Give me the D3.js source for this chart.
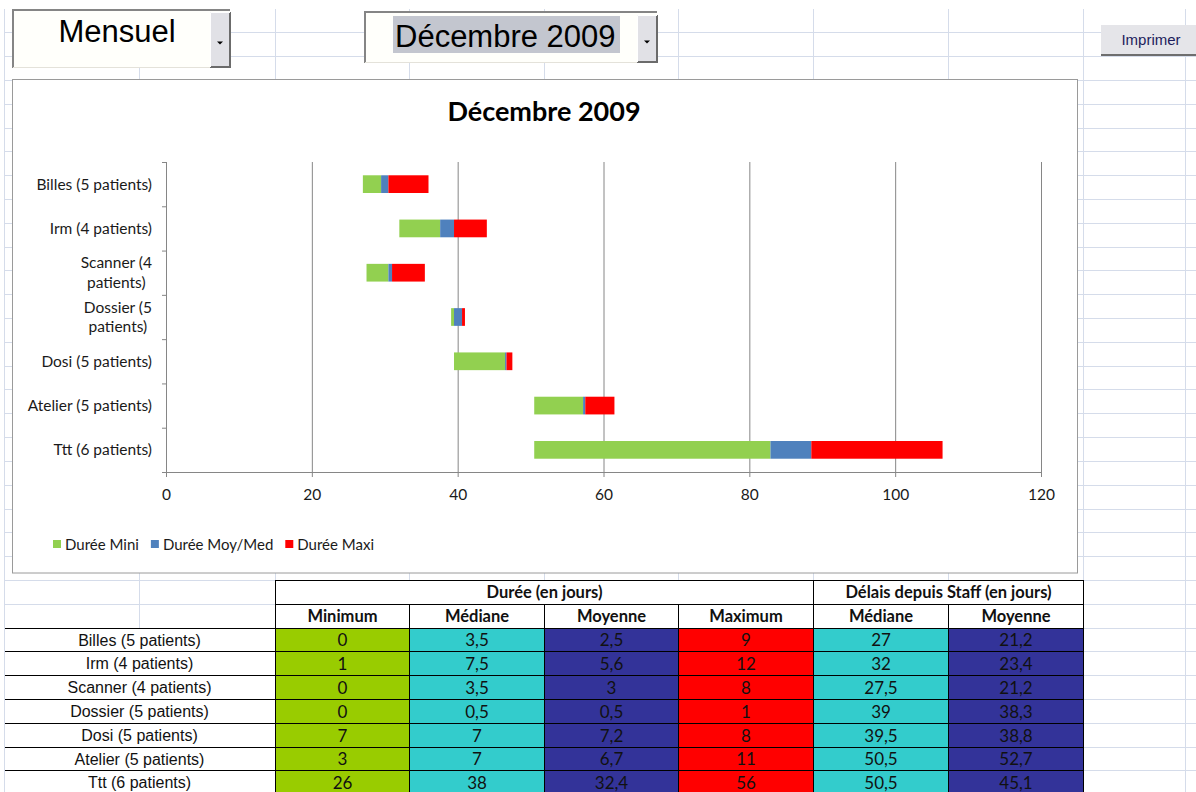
<!DOCTYPE html>
<html>
<head>
<meta charset="utf-8">
<script src="https://cdn.jsdelivr.net/npm/d3@7"></script>
<style>
  body { margin: 0; background: #fff; }
  svg { display: block; }
</style>
</head>
<body>
<svg id="sheet" width="1196" height="792"></svg>
<script>
// categories (same order in the chart and in the table)
var categories = ["Billes (5 patients)", "Irm (4 patients)", "Scanner (4 patients)", "Dossier (5 patients)",
  "Dosi (5 patients)", "Atelier (5 patients)", "Ttt (6 patients)"];
var wrappedLabels = ["Scanner (4 patients)", "Dossier (5 patients)"];

// chart segments (days)
var offsetStaff = [27, 32, 27.5, 39.1, 39.5, 50.5, 50.5];
var dureeMini = [2.5, 5.6, 3, 0.4, 7, 6.7, 32.4];
var dureeMoyMed = [1, 1.9, 0.5, 1.1, 0.2, 0.3, 5.6];
var dureeMaxi = [5.5, 4.5, 4.5, 0.4, 0.8, 4, 18];
var xTicks = [0, 20, 40, 60, 80, 100, 120];
var legendLabels = ["Durée Mini", "Durée Moy/Med", "Durée Maxi"];

// table values
var colMinimum = [0, 1, 0, 0, 7, 3, 26];
var colMediane = [3.5, 7.5, 3.5, 0.5, 7, 7, 38];
var colMoyenne = [2.5, 5.6, 3, 0.5, 7.2, 6.7, 32.4];
var colMaximum = [9, 12, 8, 1, 8, 11, 56];
var colStaffMediane = [27, 32, 27.5, 39, 39.5, 50.5, 50.5];
var colStaffMoyenne = [21.2, 23.4, 21.2, 38.3, 38.8, 52.7, 45.1];

var svg = d3.select("#sheet"),
  calibri = "Lato, 'Open Sans', sans-serif",
  arial = "'Liberation Sans', Arial, sans-serif",
  rowTop = 8.5,
  rowH = 23.81,
  colEdges = [4, 139, 275, 409, 544, 678, 813, 948, 1083, 1185],
  gridColor = "#d5dcea",
  axisColor = "#868686",
  chartText = "#1a1a1a",
  rowY = function(k) { return Math.round(rowTop + k * rowH) + 0.5; },
  frTxt = function(v) { return String(v).replace(".", ","); };

// ---- spreadsheet grid
var grid = svg.append("g").attr("class", "grid");
grid.selectAll("line.h")
  .data(d3.range(1, 34))
  .enter().append("line")
    .attr("class", "h")
    .attr("x1", 4).attr("x2", 1196)
    .attr("y1", rowY).attr("y2", rowY)
    .attr("stroke", gridColor);
grid.selectAll("line.v")
  .data(colEdges)
  .enter().append("line")
    .attr("class", "v")
    .attr("x1", function(d) { return d + 0.5; })
    .attr("x2", function(d) { return d + 0.5; })
    .attr("y1", 9).attr("y2", 792)
    .attr("stroke", gridColor);

// ---- form controls
function comboBox(x0, y0, x1, y1, bx0, by0, by1) {
  var g = svg.append("g");
  g.append("rect")
    .attr("x", x0).attr("y", y0)
    .attr("width", x1 - x0).attr("height", y1 - y0)
    .attr("fill", "#fffffb");
  g.append("path")
    .attr("d", "M" + x0 + "," + y1 + "V" + y0 + "H" + x1)
    .attr("fill", "none").attr("stroke", "#858585").attr("stroke-width", 2);
  g.append("path")
    .attr("d", "M" + x0 + "," + (y1 - 0.5) + "H" + x1)
    .attr("fill", "none").attr("stroke", "#e4e2da");
  g.append("rect")
    .attr("x", bx0).attr("y", by0)
    .attr("width", x1 - bx0).attr("height", by1 - by0)
    .attr("fill", "#e1e1e6");
  g.append("path")
    .attr("d", "M" + bx0 + "," + by1 + "H" + x1 + "V" + by0)
    .attr("fill", "none").attr("stroke", "#6b6b6b").attr("stroke-width", 2);
  g.append("path")
    .attr("d", "M" + (bx0 + 0.5) + "," + by1 + "V" + (by0 + 0.5) + "H" + x1)
    .attr("fill", "none").attr("stroke", "#ffffff");
  var cx = (bx0 + x1) / 2, cy = (by0 + by1) / 2 + 2;
  g.append("path")
    .attr("d", "M" + (cx - 3) + "," + cy + "h6l-3,3z")
    .attr("fill", "#000");
  return g;
}

var combo1 = comboBox(13, 10, 230, 68, 210, 12, 67);
combo1.append("text")
  .attr("x", 117).attr("y", 42)
  .attr("text-anchor", "middle")
  .attr("font-family", arial).attr("font-size", 31)
  .attr("fill", "#000")
  .text("Mensuel");

var combo2 = comboBox(365, 12, 657, 63, 637, 15, 62);
combo2.append("rect")
  .attr("x", 393).attr("y", 16)
  .attr("width", 227).attr("height", 37)
  .attr("fill", "#c3c6cf");
combo2.append("text")
  .attr("x", 395).attr("y", 47)
  .attr("font-family", arial).attr("font-size", 31)
  .attr("fill", "#000")
  .text("Décembre 2009");

var printBtn = svg.append("g");
printBtn.append("rect")
  .attr("x", 1101).attr("y", 25)
  .attr("width", 95).attr("height", 31)
  .attr("fill", "#e5e5e9");
printBtn.append("path")
  .attr("d", "M1101,55H1196")
  .attr("stroke", "#6e6e6e").attr("stroke-width", 2);
printBtn.append("text")
  .attr("x", 1151).attr("y", 45)
  .attr("text-anchor", "middle")
  .attr("font-family", arial).attr("font-size", 15)
  .attr("fill", "#1d1d5c")
  .text("Imprimer");

// ---- chart area
svg.append("rect")
  .attr("x", 12.5).attr("y", 79.5)
  .attr("width", 1065).attr("height", 493.5)
  .attr("fill", "#fff")
  .attr("stroke", "#9a9a9a");

svg.append("text")
  .attr("x", 544).attr("y", 121)
  .attr("text-anchor", "middle")
  .attr("font-family", calibri).attr("font-size", 27).attr("font-weight", "bold")
  .attr("fill", "#000")
  .text("Décembre 2009");

var plotTop = 162, plotBottom = 472;
var x = d3.scaleLinear()
  .domain([0, 120])
  .range([166, 1041]);
var y = d3.scaleBand()
  .domain(categories)
  .range([plotTop, plotBottom])
  .paddingInner(0.6)
  .paddingOuter(0.3);
var yTickScale = d3.scaleLinear()
  .domain([0, categories.length])
  .range([plotTop, plotBottom]);

var plot = svg.append("g").attr("class", "plot");

// vertical gridlines
plot.append("g")
  .attr("transform", "translate(0," + plotBottom + ")")
  .call(d3.axisBottom(x).tickValues(xTicks).tickSize(-(plotBottom - plotTop)).tickFormat(""))
  .call(function(g) {
    g.select(".domain").remove();
    g.selectAll("line").attr("stroke", axisColor);
  });

// stacked bars, first layer is the invisible offset
var rows = categories.map(function(c, i) {
  return { cat: c, offset: offsetStaff[i], mini: dureeMini[i], moyMed: dureeMoyMed[i], maxi: dureeMaxi[i] };
});
var keys = ["offset", "mini", "moyMed", "maxi"],
  fills = { offset: "none", mini: "#92d050", moyMed: "#4f81bd", maxi: "#ff0000" };
var series = d3.stack().keys(keys)(rows);

plot.selectAll("g.layer")
  .data(series.filter(function(s) { return s.key !== "offset"; }))
  .enter().append("g")
    .attr("class", "layer")
    .attr("fill", function(s) { return fills[s.key]; })
  .selectAll("rect")
  .data(function(s) { return s; })
  .enter().append("rect")
    .attr("x", function(d) { return x(d[0]); })
    .attr("y", function(d) { return y(d.data.cat); })
    .attr("width", function(d) { return Math.max(0, x(d[1]) - x(d[0])); })
    .attr("height", y.bandwidth());

// axes
plot.append("g")
  .attr("transform", "translate(166,0)")
  .call(d3.axisLeft(yTickScale).ticks(categories.length).tickSize(4).tickFormat(""))
  .call(function(g) {
    g.selectAll("path, line").attr("stroke", axisColor);
  });

plot.append("g")
  .attr("transform", "translate(0," + plotBottom + ")")
  .call(d3.axisBottom(x).tickValues(xTicks).tickSize(5).tickPadding(12))
  .call(function(g) {
    g.selectAll("path, line").attr("stroke", axisColor);
    g.selectAll("text")
      .attr("font-family", calibri).attr("font-size", 15.5)
      .attr("fill", chartText);
  });

// category labels
var catLabels = plot.append("g")
  .attr("font-family", calibri).attr("font-size", 15.5)
  .attr("fill", chartText);

categories.forEach(function(c) {
  var cy = y(c) + y.bandwidth() / 2,
    lines = wrappedLabels.indexOf(c) >= 0 ? [c.slice(0, c.lastIndexOf(" ")), c.slice(c.lastIndexOf(" ") + 1)] : [c],
    t = catLabels.append("text").attr("text-anchor", "middle"),
    spans = t.selectAll("tspan")
      .data(lines)
      .enter().append("tspan")
        .attr("y", function(d, i) { return cy + (i - (lines.length - 1) / 2) * 19.5; })
        .attr("dy", "0.35em")
        .text(function(d) { return d; }),
    w = d3.max(spans.nodes(), function(n) { return n.getComputedTextLength(); });
  spans.attr("x", 152 - w / 2);
});

// legend
var legend = svg.append("g")
  .attr("font-family", calibri).attr("font-size", 15)
  .attr("fill", chartText);
var lx = 53;
legendLabels.forEach(function(lbl, i) {
  legend.append("rect")
    .attr("x", lx).attr("y", 540)
    .attr("width", 8).attr("height", 8)
    .attr("fill", fills[keys[i + 1]]);
  var t = legend.append("text")
    .attr("x", lx + 12).attr("y", 549.5)
    .text(lbl);
  lx += 12 + t.node().getComputedTextLength() + 12;
});

// ---- table
var tableCols = [
  { head: "Minimum", values: colMinimum, fill: "#99cc00" },
  { head: "Médiane", values: colMediane, fill: "#33cccc" },
  { head: "Moyenne", values: colMoyenne, fill: "#333399" },
  { head: "Maximum", values: colMaximum, fill: "#ff0000" },
  { head: "Médiane", values: colStaffMediane, fill: "#33cccc" },
  { head: "Moyenne", values: colStaffMoyenne, fill: "#333399" }
];
var groupHeads = [
  { label: "Durée (en jours)", from: 0, to: 4 },
  { label: "Délais depuis Staff (en jours)", from: 4, to: 6 }
];
var headRow = 24, dataRow = 26,
  headSize = 16.5, cellSize = 17;
var table = svg.append("g").attr("class", "table");

table.append("rect")
  .attr("x", colEdges[2]).attr("y", rowY(headRow))
  .attr("width", colEdges[8] - colEdges[2]).attr("height", rowY(dataRow) - rowY(headRow))
  .attr("fill", "#fff");
table.append("rect")
  .attr("x", colEdges[0] + 1).attr("y", rowY(dataRow))
  .attr("width", colEdges[2] - colEdges[0] - 1).attr("height", 792 - rowY(dataRow))
  .attr("fill", "#fff");

// cell fills and numbers
tableCols.forEach(function(col, ci) {
  var x0 = colEdges[ci + 2] + 0.5, x1 = colEdges[ci + 3] + 0.5;
  var cells = table.append("g");
  cells.selectAll("rect")
    .data(col.values)
    .enter().append("rect")
      .attr("x", x0).attr("y", function(d, i) { return rowY(dataRow + i); })
      .attr("width", x1 - x0)
      .attr("height", function(d, i) { return rowY(dataRow + i + 1) - rowY(dataRow + i); })
      .attr("fill", col.fill)
      .attr("stroke", "#000");
  cells.selectAll("text")
    .data(col.values)
    .enter().append("text")
      .attr("x", (x0 + x1) / 2)
      .attr("y", function(d, i) { return (rowY(dataRow + i) + rowY(dataRow + i + 1)) / 2; })
      .attr("dy", "0.36em")
      .attr("text-anchor", "middle")
      .attr("font-family", calibri).attr("font-size", cellSize)
      .attr("fill", "#111")
      .text(frTxt);
  table.append("rect")
    .attr("x", x0).attr("y", rowY(headRow + 1))
    .attr("width", x1 - x0).attr("height", rowY(headRow + 2) - rowY(headRow + 1))
    .attr("fill", "#fff").attr("stroke", "#000");
  table.append("text")
    .attr("x", (x0 + x1) / 2)
    .attr("y", (rowY(headRow + 1) + rowY(headRow + 2)) / 2)
    .attr("dy", "0.36em")
    .attr("text-anchor", "middle")
    .attr("font-family", calibri).attr("font-size", headSize).attr("font-weight", "bold")
    .attr("fill", "#111")
    .text(col.head);
});

groupHeads.forEach(function(gh) {
  var x0 = colEdges[gh.from + 2] + 0.5, x1 = colEdges[gh.to + 2] + 0.5;
  table.append("rect")
    .attr("x", x0).attr("y", rowY(headRow))
    .attr("width", x1 - x0).attr("height", rowY(headRow + 1) - rowY(headRow))
    .attr("fill", "#fff").attr("stroke", "#000");
  table.append("text")
    .attr("x", (x0 + x1) / 2)
    .attr("y", (rowY(headRow) + rowY(headRow + 1)) / 2)
    .attr("dy", "0.36em")
    .attr("text-anchor", "middle")
    .attr("font-family", calibri).attr("font-size", headSize).attr("font-weight", "bold")
    .attr("fill", "#111")
    .text(gh.label);
});

// row labels
table.selectAll("line.rowline")
  .data(d3.range(categories.length + 1))
  .enter().append("line")
    .attr("class", "rowline")
    .attr("x1", colEdges[0] + 1).attr("x2", colEdges[2])
    .attr("y1", function(i) { return rowY(dataRow + i); })
    .attr("y2", function(i) { return rowY(dataRow + i); })
    .attr("stroke", "#000");
table.selectAll("text.rowlabel")
  .data(categories)
  .enter().append("text")
    .attr("class", "rowlabel")
    .attr("x", (colEdges[0] + colEdges[2]) / 2)
    .attr("y", function(d, i) { return (rowY(dataRow + i) + rowY(dataRow + i + 1)) / 2; })
    .attr("dy", "0.36em")
    .attr("text-anchor", "middle")
    .attr("font-family", arial).attr("font-size", 16)
    .attr("fill", "#111")
    .text(function(d) { return d; });
</script>
</body>
</html>
